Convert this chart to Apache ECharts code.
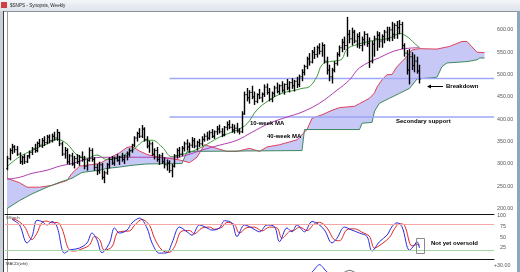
<!DOCTYPE html>
<html><head><meta charset="utf-8">
<script src="https://cdn.jsdelivr.net/npm/echarts@6/dist/echarts.min.js"></script>
<style>html,body{margin:0;padding:0;background:#fff;overflow:hidden}#c{width:520px;height:272px}</style>
</head><body><div id="c"></div>
<script>
// ---- weekly OHLC (index 0 = first visible week) ----
const opens = [290,312,330,338,332,322,305,315,305,
 318,326,334,330,346,342,352,348,360,352,362,358,
 370,345,322,330,
 305,318,300,312,305,315,310,295,308,330,310,292,285,298,270,
 280,298,310,302,312,308,315,310,318,
 322,330,342,358,368,362,
 378,355,340,345,322,330,310,318,305,298,302,285,
 295,318,330,
 322,335,345,338,342,352,340,348,345,
 355,362,358,370,362,372,378,372,365,382,388,382,376,380,374,372,412,
 455,448,460,450,440,455,448,456,472,460,445,458,470,462,475,465,478,470,482,475,485,478,495,505,
 518,535,528,550,545,560,552,
 565,530,510,495,510,
 525,545,560,572,565,590,580,595,575,585,565,578,590,570,530,568,580,588,
 575,585,595,580,600,590,610,605,612,565,548,510,540,520,530,508];
const highs = [318,335,345,342,340,326,318,322,320,
 330,338,345,350,356,358,362,365,366,368,372,378,
 372,350,338,335,
 322,325,318,322,320,328,318,312,337,335,315,300,305,302,285,
 302,315,318,316,322,318,325,320,328,
 335,345,362,372,380,387,
 382,362,352,350,335,338,322,325,315,310,308,300,
 322,335,338,
 340,350,355,348,360,358,352,356,362,
 368,372,375,378,375,385,388,380,385,395,398,390,388,392,380,418,462,
 470,465,475,462,458,468,460,478,480,470,462,475,482,478,485,480,490,485,492,488,495,500,512,522,
 540,548,555,562,565,570,572,
 568,540,522,515,530,
 550,565,580,585,629,600,605,600,592,595,585,597,592,583,575,587,597,595,
 590,600,607,607,618,615,620,622,618,570,555,557,550,545,540,522];
const lows = [286,308,322,325,318,300,298,300,302,
 312,320,325,326,338,336,340,344,346,348,352,352,
 340,318,312,300,
 298,296,290,300,296,305,288,285,305,305,285,275,278,265,257,
 276,290,298,296,305,298,305,300,308,
 316,325,338,350,358,358,
 350,335,325,318,310,305,298,300,290,285,280,270,
 292,312,315,
 318,328,330,325,336,335,330,338,340,
 350,352,354,358,356,365,368,360,362,375,378,370,368,370,366,369,410,
 440,435,445,432,436,445,438,450,455,440,438,450,458,455,460,455,465,460,468,462,470,472,485,498,
 512,520,525,535,538,545,540,
 525,500,485,480,505,
 520,540,550,555,540,570,565,570,560,558,552,565,562,515,525,540,553,560,
 560,570,575,574,575,580,580,590,557,540,500,478,510,505,502,480];
const closes = [312,330,338,332,322,305,315,305,318,
 326,334,330,346,342,352,348,360,352,362,358,370,
 345,322,330,305,
 318,300,312,305,315,310,295,308,330,310,292,285,298,270,280,
 298,310,302,312,308,315,310,318,322,
 330,342,358,368,362,378,
 355,340,345,322,330,310,318,305,298,302,285,295,
 318,330,322,
 335,345,338,342,352,340,348,345,355,
 362,358,370,362,372,378,372,365,382,388,382,376,380,374,372,412,455,
 448,460,450,440,455,448,456,472,460,445,458,470,462,475,465,478,470,482,475,485,478,495,505,518,
 535,528,550,545,560,552,565,
 530,510,495,510,525,
 545,560,572,565,590,580,595,575,585,565,578,590,570,530,568,580,588,575,
 585,595,580,600,590,610,605,612,565,548,510,540,520,530,508,490];

// ---- moving averages: [week index, value] ----
const ma10 = [[0,294],[5,316],[10,330],[16,345],[20,355],[24,345],[28,320],[32,313],[36,320],[40,310],[45,316],[50,330],[56,353],[58,353],[62,338],[66,316],[69,320],[73,326],[78,338],[85,360],[92,376],[96,390],[100,421],[105,443],[110,458],[116,466],[118,469],[121,473],[124,496],[126,522],[129,529],[132,531],[134,535],[136,557],[140,567],[144,573],[148,578],[152,580],[154,584],[157,592],[160,585],[163,570],[165,560]];
const ma40 = [[0,266],[5,270],[10,279],[16,286],[21,295],[26,301],[34,313],[41,315],[50,315],[58,315],[66,313],[72,320],[78,331],[85,342],[92,353],[98,371],[105,391],[112,405],[118,416],[125,436],[132,465],[137,488],[141,515],[149,538],[157,556],[165,560]];

// ---- cloud boundaries (projected forward) ----
const cloudRed = [[0,268],[5,258],[8,248],[13,248],[18,252],[24,263],[26,279],[29,295],[37,301],[41,313],[45,325],[48,337],[50,339],[53,329],[56,321],[60,316],[64,313],[69,309],[73,303],[76,315],[79,343],[82,338],[88,328],[92,328],[97,335],[101,328],[104,338],[109,343],[116,354],[120,377],[122,402],[126,410],[130,420],[133,426],[139,429],[141,435],[145,447],[147,459],[148,472],[150,488],[152,500],[154,500],[156,518],[158,529],[160,541],[162,555],[165,558],[172,557],[177,563],[182,574],[184,574],[186,562],[188,550],[191,549]];
const cloudGreen = [[0,200],[5,218],[10,233],[16,248],[21,259],[26,268],[30,281],[37,286],[40,290],[45,293],[50,297],[56,300],[70,301],[72,328],[118,330],[119,377],[141,377],[142,391],[146,393],[147,418],[149,436],[153,447],[157,458],[161,469],[164,490],[172,494],[174,518],[176,526],[184,529],[188,533],[189,537],[191,537]];

// ---- Fibonacci levels ----
const fibStart = 65;
const fibLevels = [{name:'0.382', value:491},{name:'0.618', value:405}];

// ---- Slow stochastic ----
const stochK = [[2,92],[5,79],[8,37],[10,52],[12,90],[14,87],[16,79],[18,87],[20,75],[23,13],[25,20],[29,25],[32,37],[34,60],[36,44],[38,14],[41,37],[43,72],[45,60],[48,67],[50,84],[53,95],[56,72],[58,37],[61,13],[64,14],[66,37],[69,74],[72,63],[74,55],[77,79],[80,72],[82,67],[85,72],[87,89],[90,83],[92,52],[95,79],[98,72],[101,63],[104,79],[107,75],[109,40],[112,72],[114,63],[116,79],[119,63],[122,87],[124,83],[127,67],[130,37],[132,48],[135,74],[138,67],[141,60],[144,52],[146,18],[149,40],[152,55],[154,75],[156,84],[158,75],[161,20],[163,32],[164,40],[165,25]];
const stochD = [[2,93],[4,90],[7,75],[10,45],[12,60],[14,85],[16,88],[18,84],[20,85],[22,70],[25,20],[27,18],[30,23],[33,32],[35,52],[37,45],[39,20],[42,28],[44,60],[46,64],[49,65],[51,78],[54,92],[57,78],[59,48],[62,20],[65,15],[67,28],[70,65],[73,66],[75,58],[78,72],[81,74],[83,69],[86,74],[88,85],[91,80],[93,60],[96,73],[99,74],[102,65],[105,74],[108,72],[110,48],[113,64],[115,67],[117,74],[120,66],[123,82],[125,85],[128,72],[131,44],[133,42],[136,68],[139,70],[142,62],[145,52],[147,25],[150,35],[153,50],[155,70],[157,82],[159,78],[162,30],[164,33],[165,32]];
const stochLevels = [80, 20];
const stochTicks = [25, 50, 75, 100];

// ---- MACD (only the top of the panel is visible) ----
const macdLine = [[110,2],[118,8],[122,18],[125,31],[128,18],[132,8],[140,4],[150,0],[165,-8]];
const macdSignal = [[110,0],[120,6],[128,12],[134,16],[137,21],[140,16],[150,6],[165,-4]];
const macdTicks = [30];

const priceTicks = [200,250,300,350,400,450,500,550,600];

const X_MIN = -0.8, X_MAX = 194.8;
const chart = echarts.init(document.getElementById('c'), null, {renderer:'canvas'});
const ohlc = opens.map((o,i)=>[i,o,highs[i],lows[i],closes[i]]);
const F = 'Liberation Sans, Arial, sans-serif';

function xAx(g){return {type:'value',gridIndex:g,min:X_MIN,max:X_MAX,axisLine:{show:true,onZero:false,lineStyle:{color:'#111',width:1}},axisTick:{show:false},axisLabel:{show:false},splitLine:{show:false}};}
function gr(top,h){return {left:5,right:26,top:top,height:h,containLabel:false,outerBoundsMode:'none'};}

const option = {
  animation:false,
  backgroundColor:'#ffffff',
  grid:[gr(12,202),gr(214,45.5),gr(259.5,40)],
  xAxis:[xAx(0),xAx(1),xAx(2)],
  yAxis:[
    {type:'value',gridIndex:0,position:'right',min:188,max:640,axisLine:{show:true,lineStyle:{color:'#9a9a9a'}},axisTick:{show:false},splitLine:{show:false},
     axisLabel:{customValues:priceTicks,formatter:v=>v.toFixed(2),fontSize:5.3,color:'#555',margin:3,align:'left',fontFamily:F}},
    {type:'value',gridIndex:1,position:'right',min:-1.9,max:104.7,axisLine:{show:true,lineStyle:{color:'#9a9a9a'}},axisTick:{show:false},splitLine:{show:false},
     axisLabel:{customValues:stochTicks,fontSize:5.3,color:'#555',margin:12,align:'right',fontFamily:F}},
    {type:'value',gridIndex:2,position:'right',min:-30,max:40,axisLine:{show:true,lineStyle:{color:'#9a9a9a'}},axisTick:{show:false},splitLine:{show:false},
     axisLabel:{customValues:macdTicks,formatter:v=>'+'+v.toFixed(2),fontSize:5.3,color:'#555',margin:0,align:'left',fontFamily:F}}
  ],
  series:[
    {type:'custom',xAxisIndex:0,yAxisIndex:0,silent:true,data:[[0,cloudRed[0][1]]],z:1,
     renderItem:function(params,api){
       const pts=[];
       cloudRed.forEach(p=>pts.push(api.coord(p)));
       for(let k=cloudGreen.length-1;k>=0;k--) pts.push(api.coord(cloudGreen[k]));
       return {type:'polygon',shape:{points:pts},style:{fill:'#c8c8f6',stroke:null}};
     }},
    {type:'line',xAxisIndex:0,yAxisIndex:0,data:cloudRed,symbol:'none',z:2,lineStyle:{color:'#e0405c',width:1}},
    {type:'line',xAxisIndex:0,yAxisIndex:0,data:cloudGreen,symbol:'none',z:2,lineStyle:{color:'#3d8a5e',width:1}},
    ...fibLevels.map(f=>({type:'line',xAxisIndex:0,yAxisIndex:0,symbol:'none',z:2,
      lineStyle:{color:'#9ea6f6',width:1.5},
      data:[{value:[fibStart,f.value],label:{show:true,formatter:f.name,position:[3,-2.5],fontSize:4.2,color:'#3a3ad0',fontFamily:F}},[X_MAX,f.value]]})),
    {type:'line',xAxisIndex:0,yAxisIndex:0,data:ma40,symbol:'none',smooth:0.4,z:3,lineStyle:{color:'#b03cb0',width:1}},
    {type:'line',xAxisIndex:0,yAxisIndex:0,data:ma10,symbol:'none',smooth:0.4,z:3,lineStyle:{color:'#3c9a3c',width:1}},
    {type:'custom',xAxisIndex:0,yAxisIndex:0,data:ohlc,z:4,
     renderItem:function(params,api){
       const i=api.value(0);
       const pO=api.coord([i,api.value(1)]), pH=api.coord([i,api.value(2)]), pL=api.coord([i,api.value(3)]), pC=api.coord([i,api.value(4)]);
       const x=Math.round(pH[0])+0.5;
       const st={stroke:'#000',lineWidth:1.4};
       const tk={stroke:'#000',lineWidth:1};
       return {type:'group',children:[
         {type:'line',shape:{x1:x,y1:pH[1],x2:x,y2:pL[1]},style:st},
         {type:'line',shape:{x1:x-1.2,y1:pO[1],x2:x,y2:pO[1]},style:tk},
         {type:'line',shape:{x1:x,y1:pC[1],x2:x+1.2,y2:pC[1]},style:tk}
       ]};
     }},
    {type:'line',xAxisIndex:1,yAxisIndex:1,data:stochD,symbol:'none',smooth:0.35,z:3,lineStyle:{color:'#e02828',width:1},
     markLine:{silent:true,symbol:'none',label:{show:false},
       data:[{yAxis:stochLevels[0],lineStyle:{color:'#f2a6a6',width:1,type:'solid'}},{yAxis:stochLevels[1],lineStyle:{color:'#a6d6a6',width:1,type:'solid'}}]}},
    {type:'line',xAxisIndex:1,yAxisIndex:1,data:stochK,symbol:'none',smooth:0.35,z:4,lineStyle:{color:'#2828e0',width:1}},
    {type:'line',xAxisIndex:2,yAxisIndex:2,data:macdSignal,symbol:'none',smooth:0.3,lineStyle:{color:'#666',width:1}},
    {type:'line',xAxisIndex:2,yAxisIndex:2,data:macdLine,symbol:'none',smooth:0.3,lineStyle:{color:'#2828e0',width:1}}
  ],
  graphic:[
    {type:'rect',shape:{x:0,y:0,width:520,height:11},style:{fill:new echarts.graphic.LinearGradient(0,0,0,1,[{offset:0,color:'#f4f6f9'},{offset:1,color:'#dde3ea'}])},z:10},
    {type:'line',shape:{x1:0,y1:11.5,x2:520,y2:11.5},style:{stroke:'#8c96a0',lineWidth:1},z:10},
    {type:'rect',shape:{x:1,y:2,width:6,height:6},style:{fill:'#d04040'},z:11},
    {type:'text',x:10,y:6,style:{text:'$SNPS - Synopsis, Weekly',fontSize:4.6,fill:'#222',fontFamily:F,verticalAlign:'middle'},z:11},
    {type:'rect',shape:{x:0,y:11,width:3,height:261},style:{fill:'#c9d0d8'},z:10},
    {type:'line',shape:{x1:3.5,y1:11,x2:3.5,y2:272},style:{stroke:'#3c3c3c',lineWidth:1},z:10},
    {type:'rect',shape:{x:517,y:11,width:3,height:261},style:{fill:'#8da6c4'},z:10},
    {type:'text',x:250,y:123,style:{text:'10-week MA',fontSize:6,fontWeight:'bold',fill:'#000',fontFamily:F,verticalAlign:'middle'},z:12},
    {type:'text',x:267,y:136,style:{text:'40-week MA',fontSize:6,fontWeight:'bold',fill:'#000',fontFamily:F,verticalAlign:'middle'},z:12},
    {type:'text',x:446,y:86,style:{text:'Breakdown',fontSize:6,fontWeight:'bold',fill:'#000',fontFamily:F,verticalAlign:'middle'},z:12},
    {type:'line',shape:{x1:443,y1:86.5,x2:430,y2:86.5},style:{stroke:'#000',lineWidth:1},z:12},
    {type:'polygon',shape:{points:[[427,86.5],[431,84.5],[431,88.5]]},style:{fill:'#000'},z:12},
    {type:'text',x:396,y:121,style:{text:'Secondary support',fontSize:6,fontWeight:'bold',fill:'#000',fontFamily:F,verticalAlign:'middle'},z:12},
    {type:'text',x:431,y:243.5,style:{text:'Not yet oversold',fontSize:6,fontWeight:'bold',fill:'#000',fontFamily:F,verticalAlign:'middle'},z:12},
    {type:'rect',shape:{x:416.5,y:238.5,width:8,height:15},style:{fill:'none',stroke:'#8a8a8a',lineWidth:1},z:12},
    {type:'text',x:6,y:217.5,style:{text:'SStoch',fontSize:4.2,fill:'#333',fontFamily:F,verticalAlign:'middle'},z:12},
    {type:'text',x:6,y:263.5,style:{text:'MACD(wht)',fontSize:4.2,fill:'#333',fontFamily:F,verticalAlign:'middle'},z:12}
  ]
};
chart.setOption(option);
</script></body></html>
